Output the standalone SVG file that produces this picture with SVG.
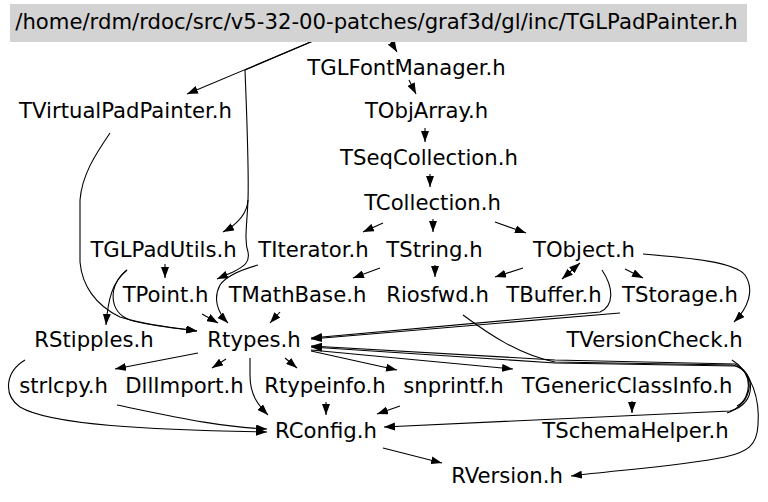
<svg xmlns="http://www.w3.org/2000/svg" width="768" height="502" viewBox="0 0 768 502">
<style>
text{font-family:"DejaVu Sans","Bitstream Vera Sans",sans-serif;font-size:21.2px;fill:#000;text-anchor:middle}
.e{fill:none;stroke:#000;stroke-width:1.1;marker-end:url(#ah)}
.l{fill:none;stroke:#000;stroke-width:1.1}
</style>
<defs>
<marker id="ah" markerUnits="userSpaceOnUse" markerWidth="11" markerHeight="8" refX="11" refY="4" orient="auto">
<path d="M0,0 L11,4 L0,8 z" fill="#000"/>
</marker>
</defs>
<rect width="768" height="502" fill="#fff"/>
<g id="connectors">
<path class="e" d="M313,41 L187,94"/>
<path class="e" d="M391,42 L397,52"/>
<path class="l" d="M245,70 C247,120 249,170 248,200"/>
<path class="e" d="M248,200 C247,215 236,225 223,232"/>
<path class="e" d="M248,200 C247,225 244,240 248,252 C250,262 245,266 233,272 L217,279"/>
<path class="e" d="M409,80 L416,94"/>
<path class="e" d="M425,128 L425,142"/>
<path class="e" d="M430,174 L430,187"/>
<path class="e" d="M383,223 L363,232"/>
<path class="e" d="M433,219 L433,232"/>
<path class="e" d="M495,222 L526,233"/>
<path class="e" d="M165,264 L165,278"/>
<path class="e" d="M127,270 C112,282 108,300 106,325"/>
<path class="e" d="M127,270 C108,285 108,312 130,320 C150,326 175,328 197,331"/>
<path class="e" d="M110,133 C95,155 82,175 80,200 L80,262 C82,285 95,305 120,317 C145,325 170,327 197,331"/>
<path class="e" d="M258,265 C240,270 226,276 220,285 C213,298 217,312 228,323"/>
<path class="e" d="M202,314 L218,323"/>
<path class="e" d="M280,312 L270,323"/>
<path class="e" d="M380,268 L353,278"/>
<path class="e" d="M435,265 L435,277"/>
<path class="e" d="M523,268 L495,277"/>
<path class="e" d="M571,271 L580,263"/>
<path class="e" d="M571,271 L562,279"/>
<path class="e" d="M625,269 L643,278"/>
<path class="e" d="M643,254 C690,258 735,262 745,275 C755,290 748,308 734,322"/>
<path class="e" d="M602,270 C614,288 614,306 600,312 L311,338"/>
<path class="e" d="M620,313 L311,339"/>
<path class="e" d="M737,406 C752,398 753,372 735,364 L555,360 L311,346"/>
<path class="e" d="M727,413 C754,404 756,372 735,366 L555,363 L311,347"/>
<path class="e" d="M463,315 C490,335 520,355 555,362 L732,365 C756,368 758,405 730,411 L384,427"/>
<path class="e" d="M732,360 C752,372 760,400 758,425 C757,445 748,452 725,457 C680,466 620,470 571,476"/>
<path class="e" d="M198,353 L115,369"/>
<path class="e" d="M226,359 L212,368"/>
<path class="e" d="M250,358 L250,375 C250,395 258,405 268,415"/>
<path class="e" d="M285,358 L297,368"/>
<path class="e" d="M311,351 L397,370"/>
<path class="e" d="M311,350 L513,369"/>
<path class="e" d="M117,405 C180,418 220,427 267,429"/>
<path class="e" d="M25,360 C5,372 3,395 20,407 C50,425 150,430 267,432"/>
<path class="e" d="M326,402 L326,415"/>
<path class="e" d="M400,406 L377,414"/>
<path class="e" d="M632,401 L632,413"/>
<path class="e" d="M383,448 L442,463"/>
<path class="l" d="M313,41 L245,70"/>
</g>
<g id="n_title"><rect x="10" y="4" width="737" height="38" fill="#d3d3d3"/><text x="376.5" y="29">/home/rdm/rdoc/src/v5-32-00-patches/graf3d/gl/inc/TGLPadPainter.h</text></g>
<g id="n_TGLFontManager"><text x="406.5" y="75">TGLFontManager.h</text></g>
<g id="n_TVirtualPadPainter"><text x="125.5" y="118">TVirtualPadPainter.h</text></g>
<g id="n_TObjArray"><text x="426.5" y="118">TObjArray.h</text></g>
<g id="n_TSeqCollection"><text x="429" y="165">TSeqCollection.h</text></g>
<g id="n_TCollection"><text x="432.5" y="210">TCollection.h</text></g>
<g id="n_TGLPadUtils"><text x="163.5" y="257">TGLPadUtils.h</text></g>
<g id="n_TIterator"><text x="313.5" y="257">TIterator.h</text></g>
<g id="n_TString"><text x="434.5" y="257">TString.h</text></g>
<g id="n_TObject"><text x="584" y="257">TObject.h</text></g>
<g id="n_TPoint"><text x="165.5" y="302">TPoint.h</text></g>
<g id="n_TMathBase"><text x="297.5" y="302">TMathBase.h</text></g>
<g id="n_Riosfwd"><text x="437.5" y="302">Riosfwd.h</text></g>
<g id="n_TBuffer"><text x="554" y="302">TBuffer.h</text></g>
<g id="n_TStorage"><text x="680" y="302">TStorage.h</text></g>
<g id="n_RStipples"><text x="94" y="347">RStipples.h</text></g>
<g id="n_Rtypes"><text x="254" y="347">Rtypes.h</text></g>
<g id="n_TVersionCheck"><text x="654.5" y="347">TVersionCheck.h</text></g>
<g id="n_strlcpy"><text x="63.5" y="393">strlcpy.h</text></g>
<g id="n_DllImport"><text x="184.5" y="393">DllImport.h</text></g>
<g id="n_Rtypeinfo"><text x="325" y="393">Rtypeinfo.h</text></g>
<g id="n_snprintf"><text x="453.5" y="393">snprintf.h</text></g>
<g id="n_TGenericClassInfo"><text x="627" y="393">TGenericClassInfo.h</text></g>
<g id="n_RConfig"><text x="326" y="438">RConfig.h</text></g>
<g id="n_TSchemaHelper"><text x="635.5" y="438">TSchemaHelper.h</text></g>
<g id="n_RVersion"><text x="507" y="483">RVersion.h</text></g>
</svg>
